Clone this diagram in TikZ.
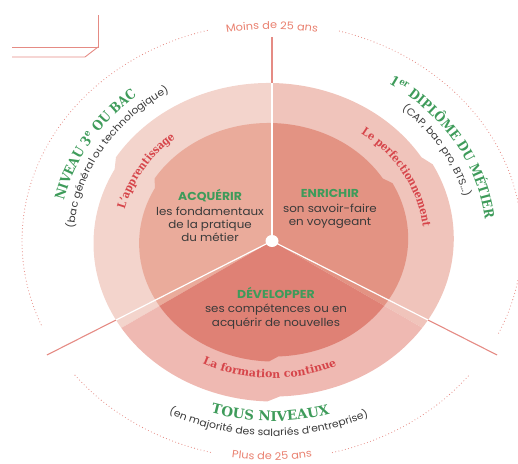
\documentclass[tikz,border=0pt]{standalone}
\usepackage{fontspec}
\setmainfont[FakeStretch=1.08]{Poppins}
\newfontfamily\slab[FakeStretch=0.88]{DejaVu Serif}
\newfontfamily\slabw[FakeStretch=1.0]{DejaVu Serif}
\usetikzlibrary{calc,decorations.text}
\definecolor{ringL}{HTML}{F3D4CC}
\definecolor{ringR}{HTML}{F0C4BB}
\definecolor{ringB}{HTML}{EFB9B2}
\definecolor{inL}{HTML}{EAAB9B}
\definecolor{inR}{HTML}{E39383}
\definecolor{inB}{HTML}{DF8175}
\definecolor{grn}{HTML}{3E9B5A}
\definecolor{redtxt}{HTML}{D6454A}
\definecolor{salmon}{HTML}{E9806F}
\definecolor{linered}{HTML}{E58B84}
\definecolor{dark}{HTML}{3A3A3A}
\newcommand\fRed{\slab\bfseries\fontsize{11.3}{13}\selectfont\color{redtxt}}
\newcommand\fRedw{\slabw\bfseries\fontsize{11}{13}\selectfont\color{redtxt}}
\newcommand\fGreen{\slab\bfseries\fontsize{13.5}{15}\selectfont\color{grn}}
\newcommand\fGreenw{\slabw\bfseries\fontsize{13.5}{15}\selectfont\color{grn}}
\newcommand\fSub{\fontsize{10}{12}\selectfont\color{dark}}
\newcommand\fAge{\fontsize{10.5}{12}\selectfont\color{salmon}}
\newcommand{\arctext}[5]{%
  \path[decorate, decoration={text along path, text={|#4|#5}, text align=center}]
    ([shift={(#2:{1.14*#1} and #1)}]C) arc[start angle=#2, end angle=#3, x radius=1.14*#1pt, y radius=#1pt];}
\tikzset{
  stepcurve/.style={insert path={
    ([shift={(32:{1.14*#1} and #1)}]Ot) arc[start angle=32, end angle=148, x radius=1.14*#1pt, y radius=#1pt]
    -- ([shift={(152:{1.14*#1} and #1)}]Ol) arc[start angle=152, end angle=268, x radius=1.14*#1pt, y radius=#1pt]
    -- ([shift={(272:{1.14*#1} and #1)}]Or) arc[start angle=272, end angle=388, x radius=1.14*#1pt, y radius=#1pt]
    -- cycle}},
  redline/.style={draw=linered, line width=1.1pt},
  dotarc/.style={draw=linered, line width=1.1pt, line cap=round, dash pattern=on 0pt off 3.3pt},
  corner/.style={draw=linered, line width=0.9pt},
  body/.style={font=\fontsize{11}{13.3}\selectfont, text=dark, align=center, inner sep=0pt},
  ttl/.style={font=\fontsize{11.5}{13}\selectfont\bfseries, text=grn}
}
\begin{document}
\begin{tikzpicture}[x=1pt,y=1pt]
\useasboundingbox (0,0) rectangle (518,-463);
\clip (0,0) rectangle (518,-463);
\coordinate (C) at (272,-241);
\coordinate (Ot) at ($(C)+(-3.3,0)$);
\coordinate (Ol) at ($(C)+(300:3.3 and 2.9)$);
\coordinate (Or) at ($(C)+(60:3.3 and 2.9)$);
\coordinate (Etop) at ($(C)+(90:{1.14*204} and 204)$);
\coordinate (Eleft) at ($(C)+(210:{1.14*228} and 228)$);
\coordinate (Eright) at ($(C)+(330:{1.14*228} and 228)$);

% corner ornament
\draw[corner] (12,-47) -- (98,-47) -- (98,-15);
\draw[corner] (12,-57) -- (85,-57) -- (98,-47);

% red radial lines
\draw[redline] (C) -- (Etop);
\draw[redline] (C) -- (Eleft);
\draw[redline] (C) -- (Eright);

% dotted outer arcs
\draw[dotarc] ([shift={(-25:250 and 218)}]C) arc[start angle=-25, end angle=75, x radius=250pt, y radius=218pt];
\draw[dotarc] ([shift={(105:250 and 218)}]C) arc[start angle=105, end angle=203, x radius=250pt, y radius=218pt];
\draw[dotarc] ([shift={(218:250 and 218)}]C) arc[start angle=218, end angle=256, x radius=250pt, y radius=218pt];
\draw[dotarc] ([shift={(284:250 and 218)}]C) arc[start angle=284, end angle=322, x radius=250pt, y radius=218pt];

% sectors
\begin{scope}
  \clip (C) -- ($(C)+(90:400)$) -- ($(C)+(150:400)$) -- ($(C)+(210:400)$) -- cycle;
  \fill[ringL, stepcurve=158];
  \fill[inL, stepcurve=118];
\end{scope}
\begin{scope}
  \clip (C) -- ($(C)+(90:400)$) -- ($(C)+(30:400)$) -- ($(C)+(-30:400)$) -- cycle;
  \fill[ringR, stepcurve=158];
  \fill[inR, stepcurve=118];
\end{scope}
\begin{scope}
  \clip (C) -- ($(C)+(210:400)$) -- ($(C)+(270:400)$) -- ($(C)+(330:400)$) -- cycle;
  \fill[ringB, stepcurve=158];
  \fill[inB, stepcurve=118];
\end{scope}

% white separators inside the disc
\begin{scope}
  \path[clip, stepcurve=158];
  \draw[white, line width=1.2pt] (C) -- (Etop);
  \draw[white, line width=1.2pt] (C) -- (Eleft);
  \draw[white, line width=1.2pt] (C) -- (Eright);
\end{scope}
\fill[white] (C) ellipse[x radius=6.5pt, y radius=6pt];

% inner texts
\node[body] (acq) at (210,-215.5) {{\fontsize{11.5}{13}\selectfont\bfseries\color{grn}ACQUÉRIR}\\[1.5pt]les fondamentaux\\de la pratique\\du métier};
\node[body] (enr) at (330,-209) {{\fontsize{11.5}{13}\selectfont\bfseries\color{grn}ENRICHIR}\\[1.5pt]son savoir-faire\\en voyageant};
\node[body] (dev) at (276,-308) {{\fontsize{11.5}{13}\selectfont\bfseries\color{grn}DÉVELOPPER}\\[1.5pt]ses compétences ou en\\acquérir de nouvelles};

% curved ring labels
\arctext{133}{190}{108}{\fRed}{L’apprentissage}
\arctext{133}{72}{-14}{\fRed}{Le perfectionnement}
\arctext{137}{225}{313}{\fRedw}{La formation continue}

% outer labels
\arctext{187}{200}{100}{\fGreen}{NIVEAU 3{\textsuperscript{e}} OU BAC}
\arctext{174}{205}{95}{\fSub}{(bac général ou technologique)}
\arctext{188}{80}{-19}{\fGreen}{1{\textsuperscript{er}} DIPLÔME DU MÉTIER}
\arctext{174}{75}{-14}{\fSub}{(CAP, bac pro, BTS...)}
\arctext{180}{230}{309}{\fGreenw}{TOUS NIVEAUX}
\arctext{195}{220}{318}{\fSub}{(en majorité des salariés d’entreprise)}
\arctext{212}{115}{65}{\fAge}{Moins de 25 ans}
\arctext{219}{245}{295}{\fAge}{Plus de 25 ans}
\end{tikzpicture}
\end{document}
